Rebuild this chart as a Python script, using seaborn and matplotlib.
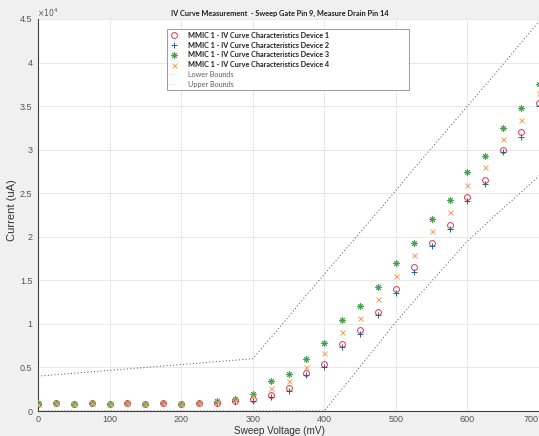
import matplotlib
matplotlib.use("Agg")
import matplotlib.pyplot as plt
import matplotlib.ticker as mticker
import seaborn as sns
import pandas as pd

# ---------------- data (current in uA) ----------------
sweep_mv = [0, 25, 50, 75, 100, 125, 150, 175, 200, 225, 250, 275, 300, 325,
            350, 375, 400, 425, 450, 475, 500, 525, 550, 575, 600, 625, 650,
            675, 700]

device1 = [850, 950, 800, 950, 800, 900, 800, 900, 800, 900, 950, 1200, 1400,
           1800, 2600, 4400, 5450, 7700, 9300, 11400, 14050, 16500, 19300,
           21400, 24550, 26550, 30000, 32000, 35300]
device2 = [850, 950, 800, 950, 800, 900, 800, 900, 800, 900, 950, 1100, 1100,
           1600, 2300, 4100, 5000, 7300, 8800, 11000, 13600, 15900, 18900,
           20900, 24100, 26050, 29700, 31500, 35000]
device3 = [900, 950, 850, 950, 850, 900, 850, 900, 850, 900, 1100, 1400, 1900,
           3400, 4200, 6000, 7800, 10400, 12000, 14200, 17000, 19300, 22000,
           24200, 27400, 29300, 32500, 34800, 37500]
device4 = [850, 950, 800, 950, 800, 900, 800, 900, 800, 900, 1000, 1300, 1700,
           2600, 3400, 5100, 6700, 9100, 10700, 12800, 15550, 17900, 20700,
           22800, 26000, 28000, 31200, 33400, 36500]
lower_bound = [0, 0, 0, 0, 0, 0, 0, 0, 0, 0, 0, 0, 0, 0, 0, 0, 0, 2550, 5100,
               7650, 10200, 12600, 14900, 17200, 19500, 21400, 23300, 25100,
               27000]
upper_bound = [4000, 4170, 4330, 4500, 4670, 4830, 5000, 5170, 5330, 5500,
               5670, 5830, 6000, 8400, 10800, 13300, 15700, 18100, 20500,
               22900, 25300, 27800, 30200, 32600, 35000, 37400, 39800, 42300,
               44700]

series_labels = ["MMIC 1 - IV Curve Characteristics Device 1",
                 "MMIC 1 - IV Curve Characteristics Device 2",
                 "MMIC 1 - IV Curve Characteristics Device 3",
                 "MMIC 1 - IV Curve Characteristics Device 4",
                 "Lower Bounds", "Upper Bounds"]
y_ticks = [0, 5000, 10000, 15000, 20000, 25000, 30000, 35000, 40000, 45000]
x_ticks = [0, 100, 200, 300, 400, 500, 600, 700]

title_text = "IV Curve Measurement  - Sweep Gate Pin 9, Measure Drain Pin 14"
x_label = "Sweep Voltage (mV)"
y_label = "Current (uA)"

df = pd.DataFrame({"x": sweep_mv, "d1": device1, "d2": device2,
                   "d3": device3, "d4": device4,
                   "lo": lower_bound, "hi": upper_bound})

# ---------------- figure ----------------
sns.set_style("white")
W, H = 539, 436
AX_TOP, AX_BOT, AX_LEFT = 19, 411, 38
fig = plt.figure(figsize=(W / 100, H / 100), dpi=100, facecolor="#f0f0f0")
ax = fig.add_axes([AX_LEFT / W, (H - AX_BOT) / H, 1 - AX_LEFT / W,
                   (AX_BOT - AX_TOP) / H])
ax.set_facecolor("white")
axw, axh = W - AX_LEFT, AX_BOT - AX_TOP

styles = [
    ("d1", "o", "#d8364f", 4.2, 0.7, "none"),
    ("d2", "+", "#2d5c9c", 5.0, 0.7, None),
    ("d3", (8, 2, 0), "#45a050", 4.4, 0.7, None),
    ("d4", "x", "#f2a05a", 3.6, 0.7, None),
]
for (col, mk, c, ms, mew, mfc), lab in zip(styles, series_labels[:4]):
    kws = dict(marker=mk, markersize=ms, markeredgewidth=mew,
               markeredgecolor=c, color=c, linestyle="")
    if mfc is not None:
        kws["markerfacecolor"] = mfc
    sns.lineplot(data=df, x="x", y=col, ax=ax, estimator=None, sort=False,
                 errorbar=None, label=lab, zorder=3, **kws)

for col, lab in zip(["lo", "hi"], series_labels[4:]):
    sns.lineplot(data=df, x="x", y=col, ax=ax, estimator=None, sort=False,
                 errorbar=None, label=lab, color="#4a4a4a", linewidth=0.7,
                 linestyle=(0, (1, 2.4)), zorder=2)

ax.set_xlim(0, 700)
ax.set_ylim(0, 45000)
ax.set_xticks(x_ticks)
ax.set_yticks(y_ticks)
ax.yaxis.set_major_formatter(mticker.FuncFormatter(lambda v, p: f"{v / 1e4:g}"))
ax.grid(True, color="#e4e4e4", linewidth=0.6, zorder=0)
ax.set_axisbelow(True)

for s in ["top", "right"]:
    ax.spines[s].set_visible(False)
for s in ["left", "bottom"]:
    ax.spines[s].set_color("#404040")
    ax.spines[s].set_linewidth(0.8)

ax.tick_params(direction="in", length=3, width=0.6, color="#404040",
               labelsize=6.5, labelcolor="#555555", pad=4)
ax.tick_params(axis="x", pad=3)
for t in ax.get_xticklabels() + ax.get_yticklabels():
    t.set_fontfamily("Liberation Sans")
# keep the right-most tick label inside the figure
ax.get_xticklabels()[-1].set_horizontalalignment("right")

ax.set_xlabel(x_label, fontsize=7.2, color="#333333", family="Liberation Sans",
              va="bottom")
ax.set_ylabel(y_label, fontsize=8, color="#333333", family="Liberation Sans")
ax.xaxis.set_label_coords((279 - AX_LEFT) / axw, (AX_BOT - 435.5) / axh)
ax.yaxis.set_label_coords((17 - AX_LEFT) / axw, (AX_BOT - 210) / axh)

# legend
leg = ax.legend(loc="upper left",
                bbox_to_anchor=((167 - AX_LEFT) / axw, 0.5,
                                (409 - 167) / axw,
                                (AX_BOT - 29) / axh - 0.5),
                mode="expand", borderaxespad=0, fancybox=False,
                frameon=True, framealpha=1, edgecolor="#8a8a8a",
                prop={"family": "Lato", "size": 5.2},
                handlelength=1.0, handletextpad=1.5, borderpad=0.4,
                labelspacing=0.38)
leg.get_frame().set_linewidth(0.6)
for i, t in enumerate(leg.get_texts()):
    if i < 4:
        t.set_fontweight("bold")
        t.set_color("#1e1e1e")
    else:
        t.set_color("#606060")
for h in leg.legend_handles[4:]:
    h.set_alpha(0.35)

fig.text(279.5 / W, 1 - 13 / H, title_text, ha="center", va="center",
         fontsize=5.3, fontweight="bold", family="Lato", color="#1e1e1e")
fig.text(37 / W, 1 - 13 / H, r"$\times10^{4}$", ha="left", va="center",
         fontsize=5.5, color="#555555")

fig.savefig("out.png", dpi=100, facecolor=fig.get_facecolor())
